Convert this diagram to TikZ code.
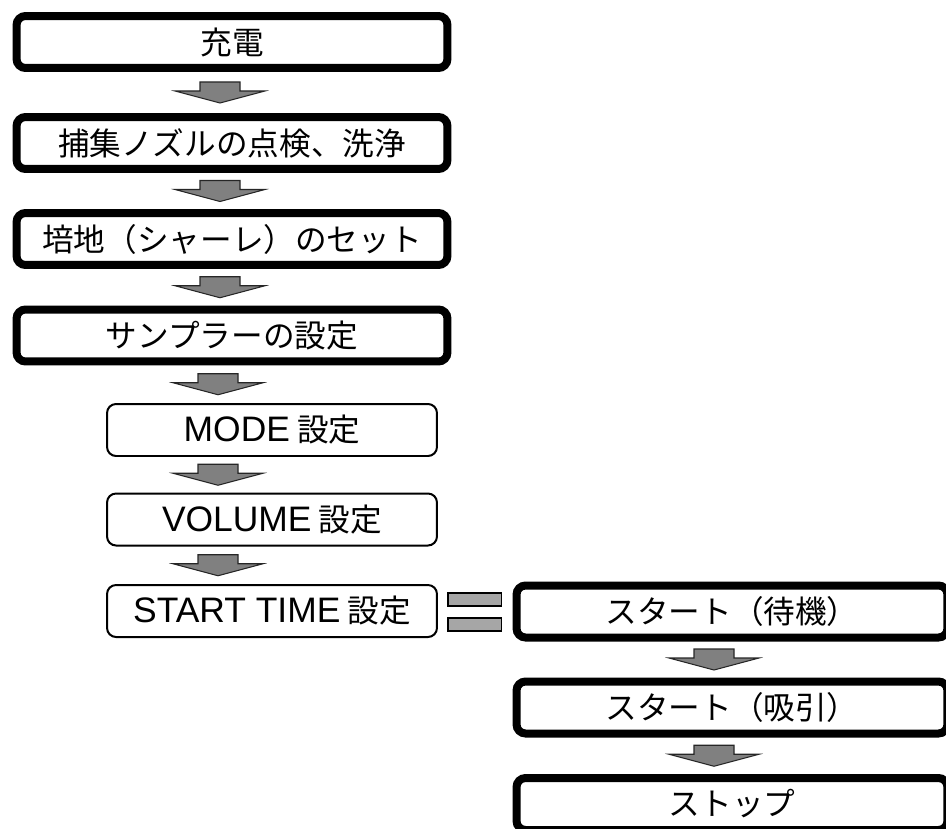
\documentclass[tikz,border=0pt]{standalone}
\usepackage{fontspec}
\setmainfont{Noto Sans CJK JP}
\newfontfamily\latinfont[Scale=1.12]{Liberation Sans}
\usetikzlibrary{calc}
\usetikzlibrary{positioning}

\begin{document}
\begin{tikzpicture}[x=0.02cm,y=-0.02cm,
  thickbox/.style={draw,line width=0.16cm,rounded corners=0.18cm,
    minimum width=8.62cm,minimum height=1.04cm,inner sep=0pt,
    font=\fontsize{18pt}{20pt}\selectfont},
  thinbox/.style={draw,line width=0.04cm,rounded corners=0.18cm,
    minimum width=6.6cm,minimum height=1.04cm,inner sep=0pt,
    font=\fontsize{18pt}{20pt}\selectfont},
  grayarrow/.pic={\filldraw[fill=gray,draw=black!85,line width=0.6pt]
    (-20,-10.5) -- (20,-10.5) -- (20,-1.5) -- (45,-1.5) -- (0,10.5)
    -- (-45,-1.5) -- (-20,-1.5) -- cycle;},
  eqbar/.style={fill=black!35,draw=black,line width=0.6pt}]

\useasboundingbox (0,0) rectangle (946,828);

\node (charge) at (232,42) [thickbox] {充電};
\node (nozzle) at (232,143) [thickbox] {捕集ノズルの点検、洗浄};
\node (medium) at (232,239) [thickbox] {培地（シャーレ）のセット};
\node (sampler) at (232,335.5) [thickbox] {サンプラーの設定};

\node (mode) at (272,430) [thinbox] {{\latinfont MODE} 設定};
\node (volume) at (272,519.5) [thinbox] {{\latinfont VOLUME} 設定};
\node (starttime) at (272,611) [thinbox] {{\latinfont START TIME} 設定};

\node (standby) at (732,611.5) [thickbox] {スタート（待機）};
\node (suction) at (732,707.5) [thickbox] {スタート（吸引）};
\node (stop) at (732,804) [thickbox] {ストップ};

\foreach \a/\b/\x in {charge/nozzle/220,nozzle/medium/220,medium/sampler/220,
  sampler/mode/218,mode/volume/218,volume/starttime/218,
  standby/suction/714,suction/stop/714}
{
  \coordinate (mid) at ($(\a.south)!.5!(\b.north)$);
  \pic at (\x,0 |- mid) {grayarrow};
}

\filldraw[eqbar] ($(starttime.east)+(10,-18)$) rectangle ($(standby.west)+(-11,-5.5)$);
\filldraw[eqbar] ($(starttime.east)+(10,7)$) rectangle ($(standby.west)+(-11,19.5)$);

\end{tikzpicture}
\end{document}
